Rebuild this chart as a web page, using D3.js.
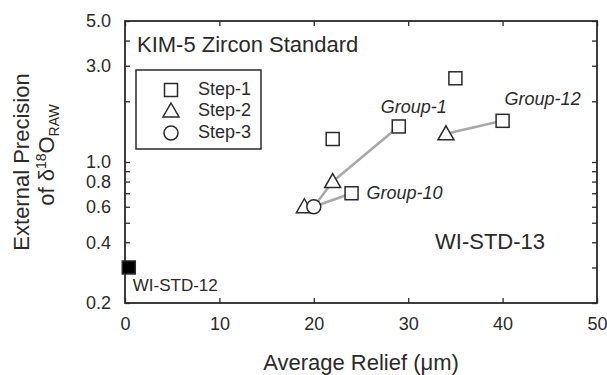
<!DOCTYPE html>
<html><head><meta charset="utf-8">
<script src="https://cdn.jsdelivr.net/npm/d3@7"></script>
<style>body{margin:0;background:#fff}svg{display:block;font-family:"Liberation Sans",Arial,sans-serif}</style>
</head><body><svg id="c" width="607" height="375"></svg>
<script>
const xTicks = [0,10,20,30,40,50];
const yTicksLabeled = [0.2,0.4,0.6,0.8,1.0,3.0,5.0];
const yTicksMinor = [0.3,0.5,0.7,0.9,2.0,4.0];
const step1 = [{x:35,y:2.6},{x:29,y:1.5},{x:22,y:1.3},{x:40,y:1.6},{x:24,y:0.7}];
const step2 = [{x:34,y:1.38},{x:22,y:0.8},{x:19,y:0.6}];
const step3 = [{x:20,y:0.6}];
const wiStd12 = [{x:0.4,y:0.3}];
const groupLines = [
  {name:"Group-1", pts:[{x:20,y:0.6},{x:22,y:0.8},{x:29,y:1.5}]},
  {name:"Group-10", pts:[{x:20,y:0.6},{x:24,y:0.7}]},
  {name:"Group-12", pts:[{x:34,y:1.38},{x:40,y:1.6}]}
];
const groupLabels = [
  {t:"Group-1", x:29, y:1.5, dx:-18, dy:-18},
  {t:"Group-10", x:24, y:0.7, dx:15, dy:1},
  {t:"Group-12", x:40, y:1.6, dx:2, dy:-21}
];

const svg = d3.select("#c");
const L=125,R=597,T=21,B=303;
const x = d3.scaleLinear().domain([0,50]).range([L,R]);
const y = d3.scaleLog().domain([0.2,5]).range([B,T]);
const ink="#2a2a2a";

const tl=5;
const allY = yTicksLabeled.concat(yTicksMinor);
svg.append("g").attr("transform",`translate(${L},0)`)
  .call(d3.axisLeft(y).tickValues(allY).tickSizeInner(-tl).tickSizeOuter(0).tickFormat(d=>yTicksLabeled.includes(d)?d3.format(".1f")(d):"").tickPadding(14))
  .call(g=>{g.select(".domain").remove();g.selectAll("line").attr("stroke",ink).attr("stroke-width",1.3);
    g.selectAll("text").attr("font-size",18).attr("fill",ink).attr("font-family","Liberation Sans, Arial");});
svg.append("g").attr("transform",`translate(${R},0)`)
  .call(d3.axisRight(y).tickValues(allY).tickSizeInner(-tl).tickSizeOuter(0).tickFormat(""))
  .call(g=>{g.select(".domain").remove();g.selectAll("line").attr("stroke",ink).attr("stroke-width",1.3);});
svg.append("g").attr("transform",`translate(0,${B})`)
  .call(d3.axisBottom(x).tickValues(xTicks).tickSizeInner(-tl).tickSizeOuter(0).tickFormat(d3.format("d")).tickPadding(14))
  .call(g=>{g.select(".domain").remove();g.selectAll("line").attr("stroke",ink).attr("stroke-width",1.3);
    g.selectAll("text").attr("font-size",18).attr("fill",ink).attr("font-family","Liberation Sans, Arial");});
svg.append("g").attr("transform",`translate(0,${T})`)
  .call(d3.axisTop(x).tickValues(xTicks).tickSizeInner(-tl).tickSizeOuter(0).tickFormat(""))
  .call(g=>{g.select(".domain").remove();g.selectAll("line").attr("stroke",ink).attr("stroke-width",1.3);});
svg.append("rect").attr("x",L).attr("y",T).attr("width",R-L).attr("height",B-T)
  .attr("fill","none").attr("stroke",ink).attr("stroke-width",1.8);

svg.append("text").attr("x",(L+R)/2).attr("y",370).attr("text-anchor","middle")
  .attr("font-size",22).attr("fill",ink).text("Average Relief (μm)");
const yt = svg.append("g").attr("transform","translate(29,162) rotate(-90)");
yt.append("text").attr("text-anchor","middle").attr("font-size",22).attr("fill",ink).text("External Precision");
const t2 = yt.append("text").attr("x",7).attr("y",25).attr("text-anchor","middle").attr("font-size",22).attr("fill",ink);
t2.append("tspan").text("of δ");
t2.append("tspan").attr("font-size",14).attr("dy",-8).text("18");
t2.append("tspan").attr("dy",8).text("O");
t2.append("tspan").attr("font-size",14).attr("dy",5).text("RAW");

const line = d3.line().x(d=>x(d.x)).y(d=>y(d.y));
svg.selectAll(".gl").data(groupLines).enter().append("path")
  .attr("d",d=>line(d.pts)).attr("fill","none").attr("stroke","#a8a8a8").attr("stroke-width",2.6);

const sq=13;
function square(g,d,fill){g.append("rect").attr("x",x(d.x)-sq/2).attr("y",y(d.y)-sq/2).attr("width",sq).attr("height",sq)
  .attr("fill",fill).attr("stroke",ink).attr("stroke-width",1.5);}
function tri(g,d){const cx=x(d.x),cy=y(d.y);g.append("path").attr("d",`M${cx},${cy-8}L${cx+8},${cy+6}L${cx-8},${cy+6}Z`)
  .attr("fill","#fff").attr("stroke",ink).attr("stroke-width",1.5);}
function circ(g,d){g.append("circle").attr("cx",x(d.x)).attr("cy",y(d.y)).attr("r",7)
  .attr("fill","#fff").attr("stroke",ink).attr("stroke-width",1.5);}
const mg = svg.append("g");
step1.forEach(d=>square(mg,d,"#fff"));
step2.forEach(d=>tri(mg,d));
step3.forEach(d=>circ(mg,d));
wiStd12.forEach(d=>square(mg,d,"#000"));

svg.selectAll(".glab").data(groupLabels).enter().append("text")
  .attr("x",d=>x(d.x)+d.dx).attr("y",d=>y(d.y)+d.dy).attr("font-size",18).attr("font-style","italic")
  .attr("fill",ink).attr("dominant-baseline","middle").text(d=>d.t);
svg.append("text").attr("x",x(wiStd12[0].x)+4).attr("y",y(wiStd12[0].y)+19).attr("font-size",17).attr("fill",ink)
  .attr("dominant-baseline","middle").text("WI-STD-12");
svg.append("text").attr("x",435).attr("y",243).attr("font-size",22).attr("fill",ink)
  .attr("dominant-baseline","middle").text("WI-STD-13");
svg.append("text").attr("x",137).attr("y",46).attr("font-size",22).attr("fill",ink)
  .attr("dominant-baseline","middle").text("KIM-5 Zircon Standard");

const lg = svg.append("g");
lg.append("rect").attr("x",136).attr("y",70).attr("width",125).attr("height",79).attr("fill","#fff")
  .attr("stroke",ink).attr("stroke-width",1.5);
const legendItems = ["Step-1","Step-2","Step-3"];
const legendY=[90,111,133];
legendItems.forEach((t,i)=>{
  const cy=legendY[i], cx=171;
  if(i===0) lg.append("rect").attr("x",cx-sq/2).attr("y",cy-sq/2).attr("width",sq).attr("height",sq).attr("fill","#fff").attr("stroke",ink).attr("stroke-width",1.5);
  if(i===1) lg.append("path").attr("d",`M${cx},${cy-8}L${cx+8},${cy+6}L${cx-8},${cy+6}Z`).attr("fill","#fff").attr("stroke",ink).attr("stroke-width",1.5);
  if(i===2) lg.append("circle").attr("cx",cx).attr("cy",cy).attr("r",7).attr("fill","#fff").attr("stroke",ink).attr("stroke-width",1.5);
  lg.append("text").attr("x",198).attr("y",cy).attr("font-size",18).attr("fill",ink).attr("dominant-baseline","middle").text(t);
});
</script></body></html>
